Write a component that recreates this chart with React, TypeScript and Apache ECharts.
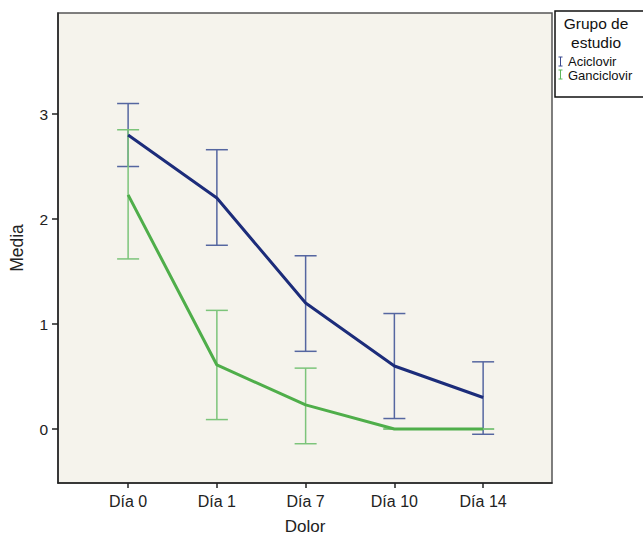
import React, { useEffect, useRef } from "react";
import * as echarts from "echarts";

const categories = ["Día 0", "Día 1", "Día 7", "Día 10", "Día 14"];
const yTicks = [0, 1, 2, 3];

const aciclovirMean = [2.8, 2.2, 1.2, 0.6, 0.3];
const aciclovirLow = [2.5, 1.75, 0.74, 0.1, -0.05];
const aciclovirHigh = [3.1, 2.66, 1.65, 1.1, 0.64];

const ganciclovirMean = [2.23, 0.61, 0.23, 0.0, 0.0];
const ganciclovirLow = [1.62, 0.09, -0.14, 0.0, 0.0];
const ganciclovirHigh = [2.85, 1.13, 0.58, 0.0, 0.0];

const FONT = "Liberation Sans, Arial, sans-serif";

export default function App() {
  const ref = useRef<HTMLDivElement>(null);

  useEffect(() => {
    document.body.style.margin = "0";
    if (!ref.current) return;
    const chart = echarts.init(ref.current, null, { renderer: "svg" });

    const errData = (low: number[], high: number[]) =>
      categories.map((_, i) => [i, low[i], high[i]]);

    const errSeries = (name: string, low: number[], high: number[], color: string) => ({
      type: "custom",
      name,
      z: 2,
      silent: true,
      data: errData(low, high),
      encode: { x: 0, y: [1, 2] },
      renderItem: (params: any, api: any) => {
        const x = api.value(0);
        const lo = api.coord([x, api.value(1)]);
        const hi = api.coord([x, api.value(2)]);
        const hw = 11;
        const st = { stroke: color, lineWidth: 1.5 };
        return {
          type: "group",
          children: [
            { type: "line", shape: { x1: lo[0], y1: lo[1], x2: hi[0], y2: hi[1] }, style: st },
            { type: "line", shape: { x1: lo[0] - hw, y1: lo[1], x2: lo[0] + hw, y2: lo[1] }, style: st },
            { type: "line", shape: { x1: hi[0] - hw, y1: hi[1], x2: hi[0] + hw, y2: hi[1] }, style: st },
          ],
        };
      },
    });

    const lineSeries = (name: string, vals: number[], color: string, z: number) => ({
      type: "line",
      name,
      z,
      data: vals.map((v, i) => [i, v]),
      symbol: "none",
      lineStyle: { color, width: 3 },
      silent: true,
    });

    chart.setOption({
      animation: false,
      backgroundColor: "#ffffff",
      textStyle: { fontFamily: FONT },
      grid: {
        left: 58,
        top: 13,
        width: 494,
        height: 470,
        outerBoundsMode: "none",
        containLabel: false,
        show: true,
        backgroundColor: "#f5f3ec",
        borderColor: "#555555",
        borderWidth: 1.5,
      },
      xAxis: {
        type: "value",
        min: -0.79,
        max: 4.776,
        name: "Dolor",
        nameLocation: "middle",
        nameGap: 35,
        nameTextStyle: { fontSize: 17, lineHeight: 17, color: "#222", fontFamily: FONT },
        axisLine: { show: true, onZero: false, lineStyle: { color: "#222", width: 1.5 } },
        axisTick: {
          show: true,
          length: 5,
          customValues: categories.map((_, i) => i),
          lineStyle: { color: "#222", width: 1.5 },
        },
        axisLabel: {
          customValues: categories.map((_, i) => i),
          formatter: (v: number) => categories[Math.round(v)] ?? "",
          fontSize: 16,
          color: "#222",
          margin: 10,
          fontFamily: FONT,
        },
        splitLine: { show: false },
      },
      yAxis: {
        type: "value",
        min: -0.514,
        max: 3.962,
        name: "Media",
        nameLocation: "middle",
        nameGap: 32,
        nameRotate: 90,
        nameTextStyle: { fontSize: 17.5, color: "#222", fontFamily: FONT },
        axisLine: { show: true, onZero: false, lineStyle: { color: "#222", width: 1.5 } },
        axisTick: {
          show: true,
          length: 6,
          customValues: yTicks,
          lineStyle: { color: "#222", width: 1.5 },
        },
        axisLabel: {
          customValues: yTicks,
          formatter: (v: number) => String(Math.round(v)),
          fontSize: 15.5,
          color: "#222",
          margin: 10,
          fontFamily: FONT,
        },
        splitLine: { show: false },
      },
      graphic: [
        {
          type: "rect",
          shape: { x: 555, y: 11, width: 100, height: 86 },
          style: { fill: "#ffffff", stroke: "#111", lineWidth: 1.5 },
          z: 10,
        },
        {
          type: "text",
          x: 596,
          y: 23,
          style: { text: "Grupo de", font: `15.5px ${FONT}`, fill: "#111", align: "center", verticalAlign: "middle" },
          z: 11,
        },
        {
          type: "text",
          x: 596,
          y: 42,
          style: { text: "estudio", font: `15.5px ${FONT}`, fill: "#111", align: "center", verticalAlign: "middle" },
          z: 11,
        },
        { type: "line", shape: { x1: 560.5, y1: 57, x2: 560.5, y2: 66 }, style: { stroke: "#3a4a90", lineWidth: 1 }, z: 11 },
        { type: "line", shape: { x1: 558.5, y1: 57, x2: 562.5, y2: 57 }, style: { stroke: "#3a4a90", lineWidth: 1 }, z: 11 },
        { type: "line", shape: { x1: 558.5, y1: 66, x2: 562.5, y2: 66 }, style: { stroke: "#3a4a90", lineWidth: 1 }, z: 11 },
        {
          type: "text",
          x: 568,
          y: 61,
          style: { text: "Aciclovir", font: `13px ${FONT}`, fill: "#111", align: "left", verticalAlign: "middle" },
          z: 11,
        },
        { type: "line", shape: { x1: 560.5, y1: 70, x2: 560.5, y2: 79 }, style: { stroke: "#5cb85a", lineWidth: 1 }, z: 11 },
        { type: "line", shape: { x1: 558.5, y1: 70, x2: 562.5, y2: 70 }, style: { stroke: "#5cb85a", lineWidth: 1 }, z: 11 },
        { type: "line", shape: { x1: 558.5, y1: 79, x2: 562.5, y2: 79 }, style: { stroke: "#5cb85a", lineWidth: 1 }, z: 11 },
        {
          type: "text",
          x: 568,
          y: 75,
          style: { text: "Ganciclovir", font: `13px ${FONT}`, fill: "#111", align: "left", verticalAlign: "middle" },
          z: 11,
        },
      ],
      series: [
        errSeries("Aciclovir IC", aciclovirLow, aciclovirHigh, "#5566a0"),
        errSeries("Ganciclovir IC", ganciclovirLow, ganciclovirHigh, "#7cc47a"),
        lineSeries("Aciclovir", aciclovirMean, "#1c2c7a", 3),
        lineSeries("Ganciclovir", ganciclovirMean, "#4fae4a", 4),
      ],
    });

    return () => chart.dispose();
  }, []);

  return <div ref={ref} style={{ width: 643, height: 536 }} />;
}
